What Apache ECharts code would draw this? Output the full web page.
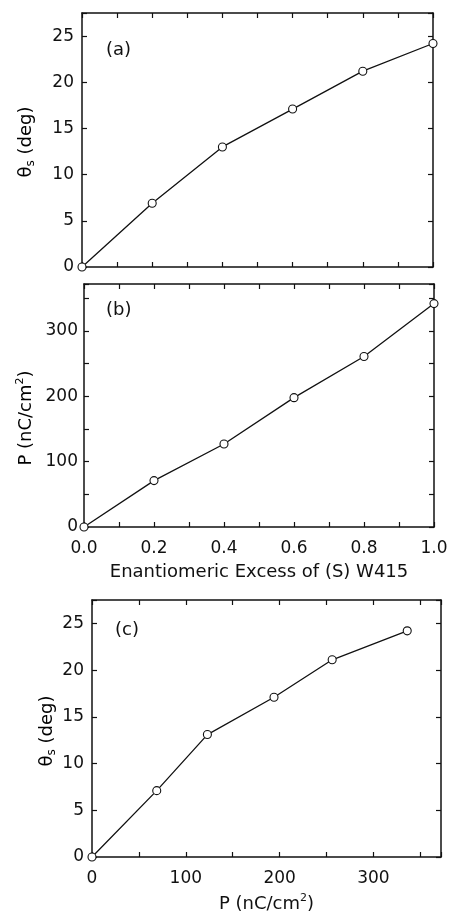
<!DOCTYPE html>
<html>
<head>
<meta charset="utf-8">
<script src="https://cdn.jsdelivr.net/npm/echarts@6/dist/echarts.min.js"></script>
<style>
  html, body { margin: 0; padding: 0; background: #fff; }
  #coolgraph { width: 452px; height: 914px; }
</style>
</head>
<body>
<div id="coolgraph"></div>
<script>
var FONT = 'DejaVu Sans, Liberation Sans, Arial, sans-serif';

// panel (a) and (b): enantiomeric excess on x
var excess = [0, 0.2, 0.4, 0.6, 0.8, 1.0];
var thetaA = [0, 6.9, 13.0, 17.1, 21.2, 24.2];
var polB = [0, 71, 127, 198, 261, 342];
// panel (c): theta against P
var polC = [0, 69, 123, 194, 256, 336];
var thetaC = [0, 7.1, 13.1, 17.1, 21.1, 24.2];

var thetaTicks = [0, 5, 10, 15, 20, 25];
var polTicks = [0, 100, 200, 300];
var excessTicks = ['0.0', '0.2', '0.4', '0.6', '0.8', '1.0'];

var chartDom = document.getElementById('coolgraph');
var myChart = echarts.init(chartDom);

// show a label only where it is a major tick
function majorLabel(list) {
  return function (v) {
    for (var i = 0; i < list.length; i++) {
      if (Math.abs(parseFloat(list[i]) - v) < 1e-6) return String(list[i]);
    }
    return '';
  };
}

function axis(grid, pos, min, max, step, labels, margin, extra) {
  var a = {
    type: 'value',
    gridIndex: grid,
    position: pos,
    min: min,
    max: max,
    interval: step,
    splitLine: { show: false },
    axisLine: { show: true, onZero: false, lineStyle: { color: '#111', width: 1.5 } },
    axisTick: { show: true, inside: true, length: 5, lineStyle: { color: '#111', width: 1.2 } },
    axisLabel: {
      show: !!labels,
      color: '#111',
      fontSize: 17,
      fontFamily: FONT,
      margin: margin || 8,
      showMaxLabel: true,
      formatter: labels || undefined
    }
  };
  if (extra) Object.assign(a, extra);
  return a;
}

var richText = {
  m: { fontSize: 18, fontFamily: FONT, color: '#111', lineHeight: 22 },
  sup: { fontSize: 11, fontFamily: FONT, color: '#111', verticalAlign: 'top', lineHeight: 12 },
  sub: { fontSize: 12, fontFamily: FONT, color: '#111', verticalAlign: 'bottom', lineHeight: 12, padding: [8, 0, 0, 0] }
};

var lineStyle = { color: '#111', width: 1.3 };
var itemStyle = { color: '#fff', borderColor: '#111', borderWidth: 1.1 };

var option = {
  animation: false,
  backgroundColor: '#fff',
  grid: [
    { left: 82, top: 13, width: 351, height: 254 },
    { left: 84, top: 284, width: 350, height: 243 },
    { left: 92, top: 600, width: 349, height: 258 }
  ],
  xAxis: [
    axis(0, 'bottom', 0, 1, 0.1, null),
    axis(0, 'top', 0, 1, 0.1, null),
    axis(1, 'bottom', 0, 1, 0.1, majorLabel(excessTicks), 13, {
      name: 'Enantiomeric Excess of (S) W415',
      nameLocation: 'middle',
      nameGap: 36,
      nameTextStyle: { color: '#111', fontSize: 18, fontFamily: FONT }
    }),
    axis(1, 'top', 0, 1, 0.1, null),
    axis(2, 'bottom', 0, 372, 50, majorLabel(polTicks), 13, {
      name: '{m|P (nC/cm}{sup|2}{m|)}',
      nameLocation: 'middle',
      nameGap: 36,
      nameTextStyle: { rich: richText }
    }),
    axis(2, 'top', 0, 372, 50, null)
  ],
  yAxis: [
    axis(0, 'left', 0, 27.5, 5, majorLabel(thetaTicks), 8),
    axis(0, 'right', 0, 27.5, 5, null),
    axis(1, 'left', 0, 372, 50, majorLabel(polTicks), 6),
    axis(1, 'right', 0, 372, 50, null),
    axis(2, 'left', 0, 27.5, 5, majorLabel(thetaTicks), 8),
    axis(2, 'right', 0, 27.5, 5, null)
  ],
  graphic: [
    { type: 'text', left: 106, top: 41, style: { text: '(a)', fontSize: 18, fontFamily: FONT, fill: '#111' } },
    { type: 'text', left: 106, top: 301, style: { text: '(b)', fontSize: 18, fontFamily: FONT, fill: '#111' } },
    { type: 'text', left: 115, top: 621, style: { text: '(c)', fontSize: 18, fontFamily: FONT, fill: '#111' } },
    { type: 'text', x: 26, y: 142, rotation: Math.PI / 2,
      style: { text: '{m|θ}{sub|s}{m| (deg)}', rich: richText, align: 'center', verticalAlign: 'middle' } },
    { type: 'text', x: 26, y: 418, rotation: Math.PI / 2,
      style: { text: '{m|P (nC/cm}{sup|2}{m|)}', rich: richText, align: 'center', verticalAlign: 'middle' } },
    { type: 'text', x: 47, y: 731, rotation: Math.PI / 2,
      style: { text: '{m|θ}{sub|s}{m| (deg)}', rich: richText, align: 'center', verticalAlign: 'middle' } }
  ],
  series: [
    {
      type: 'line', xAxisIndex: 0, yAxisIndex: 0,
      data: excess.map(function (x, i) { return [x, thetaA[i]]; }),
      symbol: 'circle', symbolSize: 8, showAllSymbol: true,
      lineStyle: lineStyle, itemStyle: itemStyle, clip: false, z: 5
    },
    {
      type: 'line', xAxisIndex: 2, yAxisIndex: 2,
      data: excess.map(function (x, i) { return [x, polB[i]]; }),
      symbol: 'circle', symbolSize: 8, showAllSymbol: true,
      lineStyle: lineStyle, itemStyle: itemStyle, clip: false, z: 5
    },
    {
      type: 'line', xAxisIndex: 4, yAxisIndex: 4,
      data: polC.map(function (x, i) { return [x, thetaC[i]]; }),
      symbol: 'circle', symbolSize: 8, showAllSymbol: true,
      lineStyle: lineStyle, itemStyle: itemStyle, clip: false, z: 5
    }
  ]
};

option && myChart.setOption(option);
</script>
</body>
</html>
